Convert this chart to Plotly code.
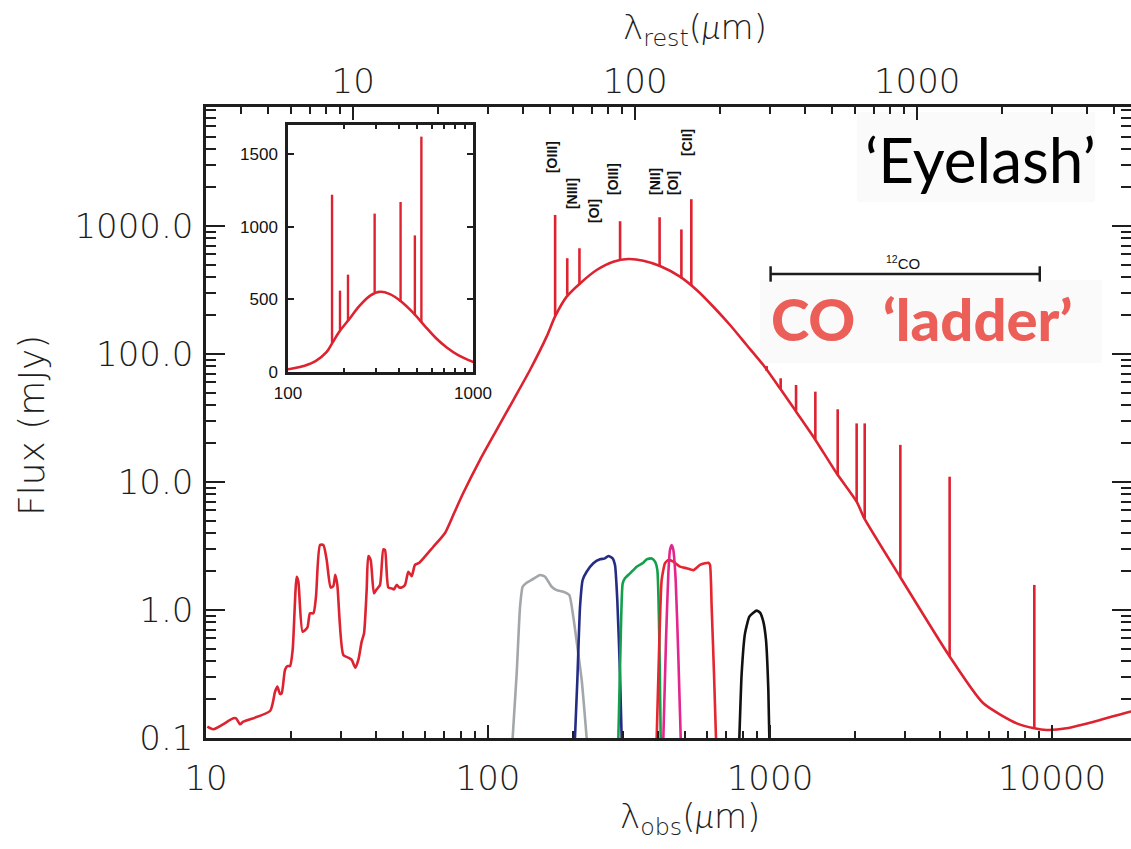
import numpy as np
import plotly.graph_objects as go

# ---------------- data ----------------
# SED continuum, observed wavelength (micron) and flux (mJy)
cont_wl = [10.11, 10.62, 12.50, 12.78, 13.20, 13.56, 16.87, 17.57, 17.91, 18.30, 18.55, 19.06, 19.43, 19.86,
           20.29, 20.97, 21.26, 22.02, 22.87, 23.38, 24.03, 24.55, 25.37, 26.07, 26.79, 27.68, 28.28, 28.74,
           29.22, 30.69, 31.97, 32.86, 33.85, 34.69, 35.65, 36.34, 37.13, 37.64, 38.36, 39.42, 40.29, 41.40,
           42.55, 43.13, 44.32, 45.54, 46.42, 47.44, 48.49, 49.42, 50.78, 52.18, 53.62, 55.10, 57.08, 64.0,
           70.4, 75.5, 81.7, 93.7, 107.3, 123.0, 140.9, 161.4, 172.8, 190.1, 212.0, 242.8, 278.3, 314.5,
           355.5, 407.3, 479.6, 549.5, 629.6, 721.5, 826.6, 947, 1085, 1206, 1425, 1723, 2029, 2160, 2891,
           4325, 5708, 7496, 8656, 9574, 11272, 14791, 18904, 20000]
cont_flux = [0.1226, 0.117, 0.1425, 0.1425, 0.128, 0.134, 0.1625, 0.230, 0.252, 0.221, 0.223, 0.340, 0.365,
             0.365, 0.487, 1.82, 1.665, 0.677, 0.728, 0.942, 0.942, 1.27, 3.22, 3.22, 2.46, 1.50, 1.54, 1.88,
             1.57, 0.445, 0.424, 0.407, 0.354, 0.407, 0.566, 0.657, 1.43, 2.64, 2.46, 1.35, 1.45, 1.57, 2.98,
             2.94, 1.50, 1.476, 1.45, 1.57, 1.50, 1.50, 1.57, 1.99, 1.84, 2.25, 2.34, 3.12, 4.0, 5.6, 8.2,
             14.9, 25.5, 43.7, 75.0, 136.6, 195.7, 280.5, 356, 453, 526, 552, 536, 487, 402, 316, 234, 168.5,
             117.6, 82.0, 53.9, 38.5, 22.6, 11.7, 7.02, 5.20, 1.82, 0.4375, 0.1866, 0.1302, 0.119, 0.1155,
             0.119, 0.138, 0.1606, 0.163]

# fine-structure lines
fs_names = ["[OIII]", "[NIII]", "[OI]", "[OIII]", "[NII]", "[OI]", "[CII]"]
fs_wl = [173, 191, 211, 294, 406, 485, 526]
fs_base = [200, 290, 350, 550, 485, 390, 345]
fs_peak = [1220, 560, 670, 1090, 1170, 940, 1620]
fs_label_wl = [168.7, 198.6, 237.6, 277.5, 391.0, 452.9, 507.7]
fs_label_flux = [3460, 1778, 1309, 2328, 2249, 2168, 4529]

# CO ladder (+[CI]) lines
co_wl = [973, 1091, 1237, 1448, 1738, 2029, 2167, 2899, 4335, 8656]
co_base = [73.6, 53, 36, 21.5, 11.5, 7.02, 5.2, 1.82, 0.4375, 0.119]
co_peak = [80.5, 64.6, 57.3, 50.8, 37.0, 28.7, 28.7, 19.5, 11.0, 1.57]
co_span_wl = [1005, 9050]
co_span_flux = [422, 422]
co_label_wl = 2962
co_label_flux = 523

one_plus_z = 3.326

# filter transmission curves (scaled, as drawn)
gray_wl = [122.3, 126.4, 129.9, 132.7, 137.1, 142.8, 152.9, 159.3, 168.2, 175.2, 184.9, 194.2, 200.6, 207.4, 214.9, 223.8]
gray_f = [0.1, 0.32, 1.06, 1.52, 1.635, 1.716, 1.877, 1.82, 1.52, 1.43, 1.39, 1.31, 0.887, 0.517, 0.284, 0.1]
blue_wl = [203.4, 207.4, 212.0, 216.6, 223.8, 236.3, 249.5, 259.9, 267.1, 276.7, 282.1, 287.4, 293.8, 297.8]
blue_f = [0.1, 0.284, 1.06, 1.716, 1.99, 2.32, 2.49, 2.53, 2.64, 2.53, 2.25, 1.197, 0.32, 0.1]
green_wl = [289.9, 295.4, 300.3, 306.0, 318.8, 336.7, 355.5, 365.3, 380.5, 391.0, 398.6, 405.2, 409.6]
green_f = [0.1, 0.583, 1.615, 1.77, 1.93, 2.18, 2.34, 2.49, 2.53, 2.39, 2.05, 0.583, 0.1]
red_wl = [396.4, 405.2, 412.9, 424.3, 436.0, 454.2, 479.6, 506.4, 534.8, 564.6, 588.1, 604.3, 612.6, 621.0, 633.0, 643.4]
red_f = [0.1, 0.583, 1.716, 2.32, 2.46, 2.39, 2.18, 2.12, 2.05, 2.25, 2.32, 2.34, 2.25, 1.06, 0.32, 0.1]
magenta_wl = [418.6, 427.8, 436.0, 441.9, 448.0, 454.2, 462.9, 473.1, 482.3]
magenta_f = [0.1, 0.583, 1.93, 2.94, 3.22, 2.94, 1.716, 0.432, 0.1]
black_wl = [778.6, 793.5, 815.4, 844.8, 872.9, 896.9, 921.6, 947.0, 967.8, 986.5, 994.6]
black_f = [0.1, 0.32, 0.657, 0.887, 0.953, 0.988, 0.953, 0.811, 0.583, 0.237, 0.1]

x_ticks = [10, 100, 1000, 10000]
x_rest_ticks = [10, 100, 1000]
y_ticks = [0.1, 1, 10, 100, 1000]
y_ticktext = ["0.1", "1.0", "10.0", "100.0", "1000.0"]
inset_x_ticks = [100, 1000]
inset_y_ticks = [0, 500, 1000, 1500]

# ---------------- layout geometry ----------------
W, H = 1131, 849
L, R, T, B = 206, 1131, 107, 738
PW, PH = R - L, B - T


def px(x):
    return (x - L) / PW


def py(y):
    return (B - y) / PH


SED_RED = "#DD2330"
AX = "#1e1e1e"
FONT = "DejaVu Sans"
LIGHT = 200
MU = '<span style="font-family:Lato;font-weight:300;font-style:italic">μ</span>'


def spikes(wl, base, peak):
    xs, ys = [], []
    for w, b, p in zip(wl, base, peak):
        xs += [w, w, None]
        ys += [b, p, None]
    return xs, ys


fs_x, fs_y = spikes(fs_wl, fs_base, fs_peak)
co_x, co_y = spikes(co_wl, co_base, co_peak)

fig = go.Figure()

filters = [(gray_wl, gray_f, "#A3A7A9"), (blue_wl, blue_f, "#242C83"), (green_wl, green_f, "#12A04B"),
           (red_wl, red_f, "#E5252F"), (magenta_wl, magenta_f, "#E4258C"), (black_wl, black_f, "#111111")]
for wl, f, c in filters:
    fig.add_trace(go.Scatter(x=wl, y=f, mode="lines", line=dict(color=c, width=2.6, shape="spline", smoothing=0.5),
                             showlegend=False, hoverinfo="skip"))

fig.add_trace(go.Scatter(x=cont_wl, y=cont_flux, mode="lines",
                         line=dict(color=SED_RED, width=2.6, shape="spline", smoothing=0.6),
                         showlegend=False, hoverinfo="skip"))
fig.add_trace(go.Scatter(x=fs_x + co_x, y=fs_y + co_y, mode="lines", line=dict(color=SED_RED, width=2.6),
                         showlegend=False, hoverinfo="skip"))

# CO bracket, drawn on the rest-frame (top) axis
fig.add_trace(go.Scatter(x=[w / one_plus_z for w in co_span_wl], y=co_span_flux, mode="lines+markers",
                         xaxis="x2", yaxis="y",
                         line=dict(color=AX, width=2.5),
                         marker=dict(symbol="line-ns", size=11, line=dict(color=AX, width=2.5)),
                         showlegend=False, hoverinfo="skip"))

# inset
fig.add_trace(go.Scatter(x=cont_wl, y=cont_flux, mode="lines",
                         line=dict(color=SED_RED, width=2.6, shape="spline", smoothing=1.0),
                         xaxis="x3", yaxis="y3", showlegend=False, hoverinfo="skip"))
fig.add_trace(go.Scatter(x=fs_x, y=fs_y, mode="lines", line=dict(color=SED_RED, width=2.4),
                         xaxis="x3", yaxis="y3", showlegend=False, hoverinfo="skip"))

tickfont = dict(family=FONT, size=34, color=AX, weight=LIGHT)
minor_x = dict(ticks="inside", ticklen=7, tickwidth=2, tickcolor=AX, dtick="D1", showgrid=False)
minor_y = dict(ticks="inside", ticklen=10, tickwidth=2, tickcolor=AX, dtick="D1", showgrid=False)
xr = [1, 1 + PW / 282.0]

fig.update_layout(
    width=W, height=H, autosize=False,
    margin=dict(l=L, r=W - R, t=T, b=H - B, pad=0, autoexpand=False),
    paper_bgcolor="white", plot_bgcolor="white",
    showlegend=False,
    xaxis=dict(type="log", range=xr, tickvals=x_ticks, ticktext=[str(v) for v in x_ticks], automargin=False,
               ticks="inside", ticklen=13, tickwidth=2, tickcolor=AX, showline=True, linecolor=AX, linewidth=2.5,
               showgrid=False, zeroline=False, minor=minor_x, tickfont=tickfont, ticklabelstandoff=8),
    xaxis2=dict(type="log", overlaying="x", side="top", anchor="y", automargin=False,
                range=[xr[0] - np.log10(one_plus_z), xr[1] - np.log10(one_plus_z)],
                tickvals=x_rest_ticks, ticktext=[str(v) for v in x_rest_ticks],
                ticks="inside", ticklen=13, tickwidth=2, tickcolor=AX, showline=True, linecolor=AX,
                linewidth=2.5, showgrid=False, zeroline=False, minor=minor_x, tickfont=tickfont,
                ticklabelstandoff=-2),
    yaxis=dict(type="log", range=[-1, -1 + PH / 128.0], tickvals=y_ticks, ticktext=y_ticktext, automargin=False,
               ticks="inside", ticklen=19, tickwidth=2, tickcolor=AX, showline=True, linecolor=AX, linewidth=2.5,
               mirror="ticks", showgrid=False, zeroline=False, minor=minor_y, tickfont=tickfont,
               ticklabelstandoff=3),
    xaxis3=dict(type="log", range=[2, 3], domain=[px(288), px(473)], anchor="y3", automargin=False,
                tickvals=inset_x_ticks, ticktext=["100", "1000"], ticks="inside", ticklen=7, tickwidth=2,
                tickcolor=AX, showline=True, linecolor=AX, linewidth=2.5, mirror="ticks", showgrid=False,
                zeroline=False, minor=dict(ticks="inside", ticklen=4, tickwidth=2, tickcolor=AX, dtick="D1"),
                tickfont=dict(family="Liberation Sans", size=17, color="#111"), ticklabelstandoff=4),
    yaxis3=dict(range=[0, 1700], domain=[py(372), py(125)], anchor="x3", automargin=False,
                tickvals=inset_y_ticks, ticks="inside", ticklen=6, tickwidth=2, tickcolor=AX, showline=True,
                linecolor=AX, linewidth=2.5, mirror="ticks", showgrid=False, zeroline=False,
                tickfont=dict(family="Liberation Sans", size=17, color="#111"), ticklabelstandoff=4),
)

ann = []
# axis titles
ann.append(dict(text="λ<sub>rest</sub>(" + MU + "m)", xref="paper", yref="paper", x=px(695), y=py(28),
                showarrow=False, font=dict(family=FONT, size=34, color=AX, weight=LIGHT),
                xanchor="center", yanchor="middle"))
ann.append(dict(text="λ<sub>obs</sub>(" + MU + "m)", xref="paper", yref="paper", x=px(690), y=py(817),
                showarrow=False, font=dict(family=FONT, size=34, color=AX, weight=LIGHT),
                xanchor="center", yanchor="middle"))
ann.append(dict(text="Flux (mJy)", xref="paper", yref="paper", x=px(31), y=py(426), textangle=-90,
                showarrow=False, font=dict(family=FONT, size=36, color=AX, weight=LIGHT),
                xanchor="center", yanchor="middle"))
# line labels
for name, lw, lf in zip(fs_names, fs_label_wl, fs_label_flux):
    ann.append(dict(text="<b>%s</b>" % name, xref="x", yref="y", x=np.log10(lw), y=np.log10(lf), textangle=-90,
                    showarrow=False, font=dict(family="Liberation Sans", size=14, color="#111"),
                    xanchor="center", yanchor="middle"))
ann.append(dict(text="<sup>12</sup>CO", xref="x", yref="y", x=np.log10(co_label_wl), y=np.log10(co_label_flux),
                showarrow=False, font=dict(family="Liberation Sans", size=15, color="#111"),
                xanchor="center", yanchor="middle"))
# big labels
ann.append(dict(text="‘Eyelash’", xref="paper", yref="paper", x=px(980), y=py(159), showarrow=False,
                font=dict(family="Lato", size=62, color="#000"), xanchor="center", yanchor="middle"))
ann.append(dict(text="CO  ‘ladder’", xref="paper", yref="paper", x=px(921), y=py(318), showarrow=False,
                font=dict(family="Lato", size=58, color="#EB5F58", weight=900), xanchor="center", yanchor="middle"))
fig.update_layout(annotations=ann)

fig.update_layout(shapes=[
    dict(type="rect", xref="paper", yref="paper", x0=px(857), x1=px(1095), y0=py(202), y1=py(112),
         fillcolor="#fafafa", line=dict(width=0), layer="below"),
    dict(type="rect", xref="paper", yref="paper", x0=px(760), x1=px(1102), y0=py(363), y1=py(280),
         fillcolor="#fafafa", line=dict(width=0), layer="below"),
])

fig.write_html("out.html")
